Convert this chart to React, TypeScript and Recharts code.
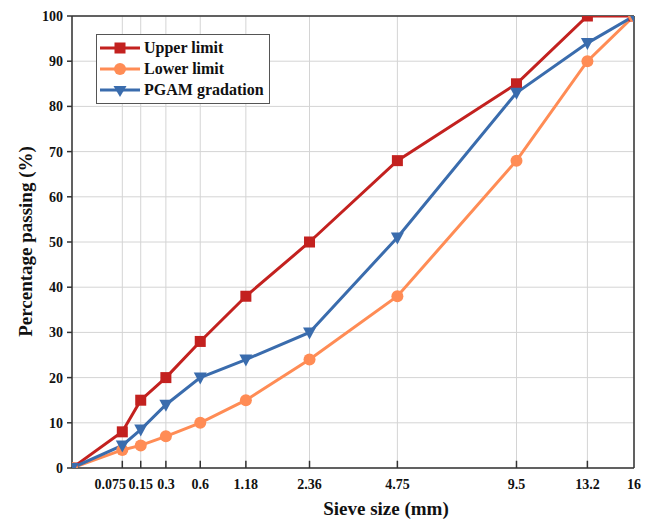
import React from 'react';
import { CartesianGrid, Legend, Line, LineChart, ReferenceLine, XAxis, YAxis } from 'recharts';

// gradation chart: x axis is sieve size raised to the 0.45 power
const POWER = 0.45;

const sieveSizes = [0, 0.075, 0.15, 0.3, 0.6, 1.18, 2.36, 4.75, 9.5, 13.2, 16];
const sieveLabels = ['0.075', '0.15', '0.3', '0.6', '1.18', '2.36', '4.75', '9.5', '13.2', '16'];
const upperLimit = [0, 8, 15, 20, 28, 38, 50, 68, 85, 100, 100];
const lowerLimit = [0, 4, 5, 7, 10, 15, 24, 38, 68, 90, 100];
const pgamGradation = [0, 5, 8.5, 14, 20, 24, 30, 51, 83, 94, 100];
const yTicks = [0, 10, 20, 30, 40, 50, 60, 70, 80, 90, 100];

const toX = (s: number) => Math.pow(s, POWER);
const X_MAX = toX(16);
const xTicks = sieveLabels.map((l) => toX(parseFloat(l)));

const data = sieveSizes.map((s, i) => ({
  x: toX(s),
  upper: upperLimit[i],
  lower: lowerLimit[i],
  pgam: pgamGradation[i],
}));

const FONT = '"Liberation Serif", "Times New Roman", serif';
const RED = '#C3211F';
const ORANGE = '#FF8C55';
const BLUE = '#3A6CAD';
const AXIS = '#333';
const INK = '#111';

const SquareDot = (p: any) => (
  <rect key={`s${p.index}`} x={p.cx - 5.5} y={p.cy - 5.5} width={11} height={11} fill={RED} />
);
const CircleDot = (p: any) => <circle key={`c${p.index}`} cx={p.cx} cy={p.cy} r={6} fill={ORANGE} />;
const TriangleDot = (p: any) => (
  <path
    key={`t${p.index}`}
    d={`M${p.cx - 6.5},${p.cy - 5} L${p.cx + 6.5},${p.cy - 5} L${p.cx},${p.cy + 7} Z`}
    fill={BLUE}
  />
);

// first label is nudged left in the original so it does not run into 0.15
const SieveTick = (p: any) => {
  const label = sieveLabels[xTicks.findIndex((t) => Math.abs(t - p.payload.value) < 1e-9)] ?? '';
  const dx = label === '0.075' ? -12 : 0;
  return (
    <text x={p.x + dx} y={p.y} dy="0.71em" textAnchor="middle" fontSize={14} fontWeight="bold" fill={INK} fontFamily={FONT}>
      {label}
    </text>
  );
};

const legendItems = [
  { name: 'Upper limit', color: RED, marker: 'square' },
  { name: 'Lower limit', color: ORANGE, marker: 'circle' },
  { name: 'PGAM gradation', color: BLUE, marker: 'triangle' },
];

function GradationLegend() {
  return (
    <div
      style={{
        border: '1px solid #555',
        background: '#fff',
        padding: '2px 4px 2px 2px',
        width: 174,
        boxSizing: 'border-box',
        fontFamily: FONT,
        whiteSpace: 'nowrap',
      }}
    >
      {legendItems.map((it) => (
        <div key={it.name} style={{ display: 'flex', alignItems: 'center', height: 21.3 }}>
          <svg width={42} height={16} style={{ flexShrink: 0 }}>
            <line x1={1} y1={8} x2={41} y2={8} stroke={it.color} strokeWidth={3} />
            {it.marker === 'square' && <rect x={15.5} y={2.5} width={11} height={11} fill={it.color} />}
            {it.marker === 'circle' && <circle cx={21} cy={8} r={6} fill={it.color} />}
            {it.marker === 'triangle' && <path d="M14.5,4 L27.5,4 L21,15 Z" fill={it.color} />}
          </svg>
          <span style={{ fontSize: 16, fontWeight: 'bold', marginLeft: 3, color: INK }}>{it.name}</span>
        </div>
      ))}
    </div>
  );
}

export default function App() {
  const tickStyle = { fontSize: 14, fontWeight: 'bold', fill: INK, fontFamily: FONT };
  return (
    <LineChart width={643} height={512} data={data} margin={{ top: 8, right: 17, left: 0, bottom: 12 }}>
      <CartesianGrid stroke="#d4d4d4" strokeWidth={1} />
      <XAxis
        type="number"
        dataKey="x"
        domain={[0, X_MAX]}
        ticks={xTicks}
        interval={0}
        allowDataOverflow
        tick={SieveTick}
        tickLine={false}
        tickSize={0}
        tickMargin={11}
        axisLine={{ stroke: AXIS, strokeWidth: 1.5 }}
        height={40}
        label={{
          value: 'Sieve size (mm)',
          content: (lp: any) => (
            <text x={378} y={507} textAnchor="middle" fontSize={19} fontWeight="bold" fill={INK} fontFamily={FONT}>
              {lp.value}
            </text>
          ),
        }}
      />
      <YAxis
        type="number"
        domain={[0, 100]}
        ticks={yTicks}
        interval={0}
        allowDataOverflow
        width={64}
        tick={tickStyle}
        tickSize={5}
        tickMargin={4}
        tickLine={{ stroke: AXIS, strokeWidth: 1.5 }}
        axisLine={{ stroke: AXIS, strokeWidth: 1.5 }}
        label={{
          value: 'Percentage passing (%)',
          content: (lp: any) => (
            <text
              x={17}
              y={233.5}
              transform="rotate(-90, 17, 233.5)"
              textAnchor="middle"
              dominantBaseline="central"
              fontSize={19}
              fontWeight="bold"
              fill={INK}
              fontFamily={FONT}
            >
              {lp.value}
            </text>
          ),
        }}
      />
      <ReferenceLine y={100} stroke={AXIS} strokeWidth={1.5} />
      <ReferenceLine x={X_MAX} stroke={AXIS} strokeWidth={1.5} />
      {xTicks.slice(0, -1).map((t) => (
        <ReferenceLine key={t} segment={[{ x: t, y: 0 }, { x: t, y: 1.6 }]} stroke={AXIS} strokeWidth={1.5} />
      ))}
      <Legend
        layout="vertical"
        verticalAlign="middle"
        align="center"
        content={<GradationLegend />}
        wrapperStyle={{ left: 88, top: 26, width: 174 }}
      />
      <Line type="linear" dataKey="upper" name="Upper limit" stroke={RED} strokeWidth={3} dot={SquareDot} activeDot={false} isAnimationActive={false} />
      <Line type="linear" dataKey="lower" name="Lower limit" stroke={ORANGE} strokeWidth={3} dot={CircleDot} activeDot={false} isAnimationActive={false} />
      <Line type="linear" dataKey="pgam" name="PGAM gradation" stroke={BLUE} strokeWidth={3} dot={TriangleDot} activeDot={false} isAnimationActive={false} />
    </LineChart>
  );
}
